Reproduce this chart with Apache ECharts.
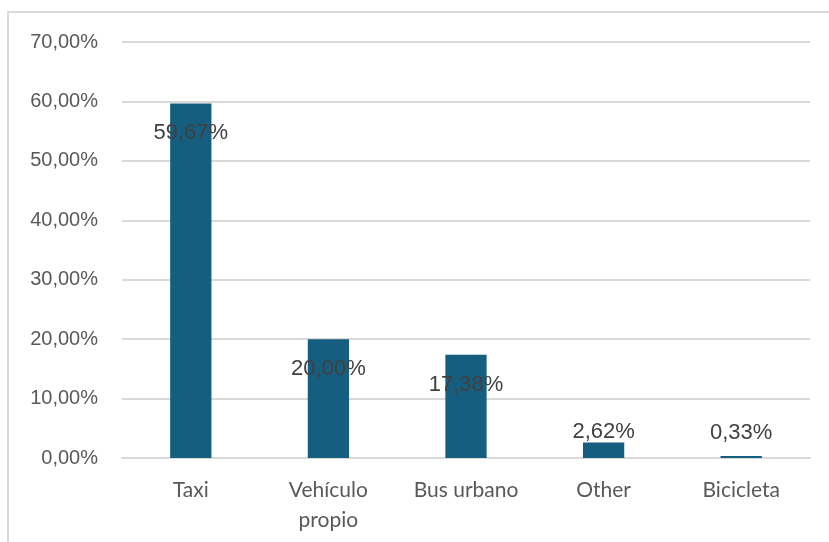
<!DOCTYPE html>
<html>
<head>
<meta charset="utf-8">
<style>
  html, body { margin: 0; padding: 0; background: #fff; }
  #chart { width: 829px; height: 542px; }
</style>
<script src="https://cdn.jsdelivr.net/npm/echarts@6/dist/echarts.min.js"></script>
</head>
<body>
<div id="chart"></div>
<script>
// Share of trips by transport mode (%)
const categories = ['Taxi', 'Vehículo\npropio', 'Bus urbano', 'Other', 'Bicicleta'];
const shares = [59.67, 20.00, 17.38, 2.62, 0.33];
const yTicks = { min: 0, max: 70, interval: 10 };

const fmt = v => v.toFixed(2).replace('.', ',') + '%';

// Tall bars carry their label inside the top; short ones above the bar
const labelPlacement = [
  { position: 'insideTop', distance: 19 },
  { position: 'insideTop', distance: 19 },
  { position: 'insideTop', distance: 19 },
  { position: 'top', distance: -1 },
  { position: 'top', distance: 12 }
];

const chart = echarts.init(document.getElementById('chart'));
chart.setOption({
  animation: false,
  backgroundColor: '#ffffff',
  graphic: [{
    type: 'rect',
    silent: true,
    shape: { x: 8, y: 12, width: 900, height: 600 },
    style: { fill: 'none', stroke: '#d9d9d9', lineWidth: 2 }
  }],
  grid: { left: 122, right: 19, top: 42, bottom: 84 },
  xAxis: {
    type: 'category',
    data: categories,
    axisLine: { show: true, lineStyle: { color: '#d9d9d9', width: 2 } },
    axisTick: { show: false },
    axisLabel: {
      color: '#595959',
      fontSize: 21,
      fontFamily: 'Lato, "Noto Sans", sans-serif',
      margin: 17,
      lineHeight: 30,
      interval: 0
    }
  },
  yAxis: {
    type: 'value',
    min: yTicks.min,
    max: yTicks.max,
    interval: yTicks.interval,
    axisLine: { show: false },
    axisTick: { show: false },
    splitLine: { lineStyle: { color: '#d9d9d9', width: 2 } },
    axisLabel: {
      color: '#595959',
      fontSize: 20,
      fontFamily: '"Liberation Sans", Arial, sans-serif',
      margin: 24,
      formatter: fmt
    }
  },
  series: [{
    type: 'bar',
    barCategoryGap: '70%',
    itemStyle: { color: '#165e80' },
    data: shares.map((v, i) => ({
      value: v,
      label: labelPlacement[i]
    })),
    label: {
      show: true,
      color: '#404040',
      fontSize: 22,
      fontFamily: '"Liberation Sans", Arial, sans-serif',
      formatter: p => fmt(p.value)
    }
  }]
});
</script>
</body>
</html>
